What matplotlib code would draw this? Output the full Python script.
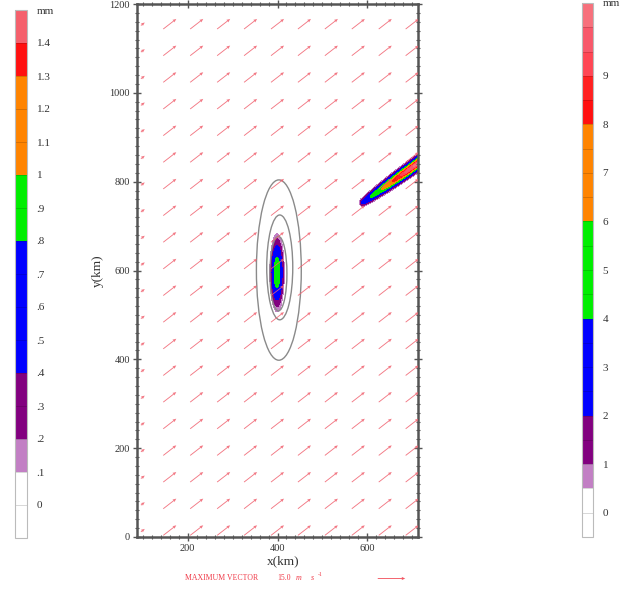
import numpy as np
import matplotlib
matplotlib.use("Agg")
import matplotlib.pyplot as plt
import matplotlib.ticker as mticker
from matplotlib.colors import ListedColormap, BoundaryNorm
from matplotlib.cm import ScalarMappable
from matplotlib.patches import Ellipse

plt.rcParams['font.family'] = ['Liberation Serif', 'DejaVu Serif']
plt.rcParams['mathtext.fontset'] = 'stix'

# ---------------------------------------------------------------- data
# wind vector grid (km) and components (m/s)
VEC_X = [100, 160, 220, 280, 340, 400, 460, 520, 580, 640, 700]
VEC_Y = [15, 75, 135, 195, 255, 315, 375, 435, 495, 555,
         615, 675, 735, 795, 855, 915, 975, 1035, 1095, 1155]
U_COL = [2.1, 7.1, 7.1, 7.1, 7.1, 7.1, 7.1, 7.1, 7.1, 7.1, 7.1]
V_COL = [1.6, 5.5, 5.5, 5.5, 5.5, 5.5, 5.5, 5.5, 5.5, 5.5, 5.5]
MAX_VECTOR = 15.0

# rainfall scale for the vortex core (mm)
LEFT_BOUNDS = [-0.1, 0.0, 0.1, 0.2, 0.3, 0.4, 0.5, 0.6, 0.7, 0.8,
               0.9, 1.0, 1.1, 1.2, 1.3, 1.4, 1.5]
LEFT_COLORS = ['#ffffff', '#ffffff', '#c27fc4', '#82007f', '#82007f',
               '#0000ff', '#0000ff', '#0000ff', '#0000ff', '#00ee00',
               '#00ee00', '#ff8400', '#ff8400', '#ff8400', '#ff1010',
               '#f5606c']
LEFT_TICKS = [0.0, 0.1, 0.2, 0.3, 0.4, 0.5, 0.6, 0.7, 0.8, 0.9,
              1.0, 1.1, 1.2, 1.3, 1.4, 1.5]
LEFT_LABELS = ['0', '.1', '.2', '.3', '.4', '.5', '.6', '.7', '.8', '.9',
               '1', '1.1', '1.2', '1.3', '1.4', 'mm']

# rainfall scale for the rain band (mm)
RIGHT_BOUNDS = [-0.5, 0.0, 0.5, 1.0, 1.5, 2.0, 2.5, 3.0, 3.5, 4.0, 4.5,
                5.0, 5.5, 6.0, 6.5, 7.0, 7.5, 8.0, 8.5, 9.0, 9.5, 10.0, 10.5]
RIGHT_COLORS = ['#ffffff', '#ffffff', '#c27fc4', '#82007f', '#82007f',
                '#0000ff', '#0000ff', '#0000ff', '#0000ff',
                '#00ee00', '#00ee00', '#00ee00', '#00ee00',
                '#ff8400', '#ff8400', '#ff8400', '#ff8400',
                '#ff1010', '#ff2020', '#ff4654', '#f8586a', '#f7707c']
RIGHT_TICKS = [0, 1, 2, 3, 4, 5, 6, 7, 8, 9, 10.5]
RIGHT_LABELS = ['0', '1', '2', '3', '4', '5', '6', '7', '8', '9', 'mm']

# vortex core rainfall: centre (km), peak (mm), spread (km), profile sharpness
CORE_CENTER = (399.0, 595.0)
CORE_PEAK = 0.98
CORE_SIGMA = (8.3, 45.0)
CORE_POWER = 1.3

# rain band: tip (km), orientation (deg), along-band profile
BAND_TIP = (589.0, 752.0)
BAND_ANGLE = 35.8
BAND_S = [-9, 0, 15, 38, 60, 90, 115, 160]
BAND_PEAK = [0.0, 2.3, 3.6, 5.0, 6.5, 8.4, 9.5, 10.4]
BAND_SIGMA = [3.5, 5.0, 5.5, 6.0, 6.5, 6.8, 7.0, 7.2]

# closed isolines around the vortex: centre x, centre y, half-width, half-height (km)
RING_CX = [403, 405, 402]
RING_CY = [601, 607, 593]
RING_A = [50, 29, 19]
RING_B = [203, 118, 84]

XLIM = (87, 713)
YLIM = (0, 1200)

# ---------------------------------------------------------------- figure
W, H, DPI = 627, 592, 100
fig = plt.figure(figsize=(W / DPI, H / DPI), dpi=DPI)

def fbox(x0, y0, x1, y1):
    return [x0 / W, 1 - y1 / H, (x1 - x0) / W, (y1 - y0) / H]

ax = fig.add_axes(fbox(137, 4, 418, 537))
ax.set_xlim(*XLIM)
ax.set_ylim(*YLIM)

# rainfall fields on a fine grid
gx = np.arange(XLIM[0], XLIM[1] + 1, 1.0)
gy = np.arange(YLIM[0], YLIM[1] + 1, 1.0)
GX, GY = np.meshgrid(gx, gy)

r2 = 0.5 * (((GX - CORE_CENTER[0]) / CORE_SIGMA[0]) ** 2
            + ((GY - CORE_CENTER[1]) / CORE_SIGMA[1]) ** 2)
core = CORE_PEAK * np.exp(-r2 ** CORE_POWER)

th = np.deg2rad(BAND_ANGLE)
s = (GX - BAND_TIP[0]) * np.cos(th) + (GY - BAND_TIP[1]) * np.sin(th)
n = -(GX - BAND_TIP[0]) * np.sin(th) + (GY - BAND_TIP[1]) * np.cos(th)
peak = np.interp(s, BAND_S, BAND_PEAK, left=0.0, right=BAND_PEAK[-1])
sig = np.interp(s, BAND_S, BAND_SIGMA)
band = peak * np.exp(-0.5 * (n / sig) ** 2)

lcmap = ListedColormap(LEFT_COLORS)
lnorm = BoundaryNorm(LEFT_BOUNDS, lcmap.N)
rcmap = ListedColormap(RIGHT_COLORS)
rnorm = BoundaryNorm(RIGHT_BOUNDS, rcmap.N)

ax.contourf(GX, GY, core, levels=LEFT_BOUNDS[2:], cmap=lcmap, norm=lnorm, zorder=1)
ax.contourf(GX, GY, band, levels=RIGHT_BOUNDS[2:], cmap=rcmap, norm=rnorm, zorder=1)

for cx, cy, a, b in zip(RING_CX, RING_CY, RING_A, RING_B):
    ax.add_patch(Ellipse((cx, cy), 2 * a, 2 * b, fill=False,
                         edgecolor='#8a8a8a', lw=1.0, zorder=2))

# wind vectors
QX, QY = np.meshgrid(VEC_X, VEC_Y)
QU = np.tile(U_COL, (len(VEC_Y), 1))
QV = np.tile(V_COL, (len(VEC_Y), 1))
vec_color = '#f0606e'
q = ax.quiver(QX, QY, QU, QV, color=vec_color, pivot='middle', units='dots',
              angles='uv', scale_units='dots', scale=MAX_VECTOR / 27.5,
              width=0.9, headwidth=3.6, headlength=4.0, headaxislength=3.6,
              zorder=3, alpha=0.85)

# axes styling
for sp in ax.spines.values():
    sp.set_color('#555555')
    sp.set_linewidth(1.8)
ax.xaxis.set_major_locator(mticker.FixedLocator([200, 400, 600]))
ax.yaxis.set_major_locator(mticker.FixedLocator([0, 200, 400, 600, 800, 1000, 1200]))
ax.xaxis.set_minor_locator(mticker.MultipleLocator(20))
ax.yaxis.set_minor_locator(mticker.MultipleLocator(20))
ax.tick_params(which='both', direction='inout', top=True, right=True,
               color='#555555', labelcolor='#333333', labelsize=7.5, pad=2)
ax.tick_params(which='major', length=6, width=1.0)
ax.tick_params(which='minor', length=3.5, width=0.8)
ax.set_xlabel('x(km)', fontsize=9.5, color='#333333', labelpad=2)
ax.xaxis.set_label_coords(0.52, -0.035)
ax.set_ylabel('y(km)', fontsize=9.5, color='#333333', labelpad=4)

# maximum-vector key
txt_color = '#f03a48'
ky = 1 - 578 / H
fig.text(185 / W, ky, 'MAXIMUM VECTOR', fontsize=5.6, color=txt_color,
         va='center', ha='left')
fig.text(277 / W, ky, '15.0', fontsize=5.6, color=txt_color,
         va='center', ha='left')
fig.text(296 / W, ky, 'm', fontsize=5.8, style='italic', color=txt_color,
         va='center', ha='left')
fig.text(311 / W, ky, 's', fontsize=5.8, style='italic', color=txt_color,
         va='center', ha='left')
fig.text(318 / W, ky + 4 / H, '-1', fontsize=4.2, color=txt_color,
         va='center', ha='left')
ax.quiverkey(q, 391 / W, ky, MAX_VECTOR, '', coordinates='figure',
             labelpos='N', color=txt_color)

# colour scales
def scale_bar(box, cmap, norm, ticks, labels):
    cax = fig.add_axes(box)
    cb = fig.colorbar(ScalarMappable(norm=norm, cmap=cmap), cax=cax,
                      ticks=ticks, drawedges=True, spacing='uniform')
    cb.ax.minorticks_off()
    cb.ax.set_yticks(ticks)
    cb.ax.set_yticklabels(labels)
    cb.ax.tick_params(length=0, labelsize=8, labelcolor='#333333', pad=7)
    cb.outline.set_edgecolor('#bbbbbb')
    cb.outline.set_linewidth(0.8)
    cb.dividers.set_color((0, 0, 0, 0.18))
    cb.dividers.set_linewidth(0.6)
    return cb

scale_bar(fbox(15, 10, 27, 538), lcmap, lnorm, LEFT_TICKS, LEFT_LABELS)
scale_bar(fbox(582, 3, 593, 537), rcmap, rnorm, RIGHT_TICKS, RIGHT_LABELS)

fig.savefig('out.png', dpi=DPI)
